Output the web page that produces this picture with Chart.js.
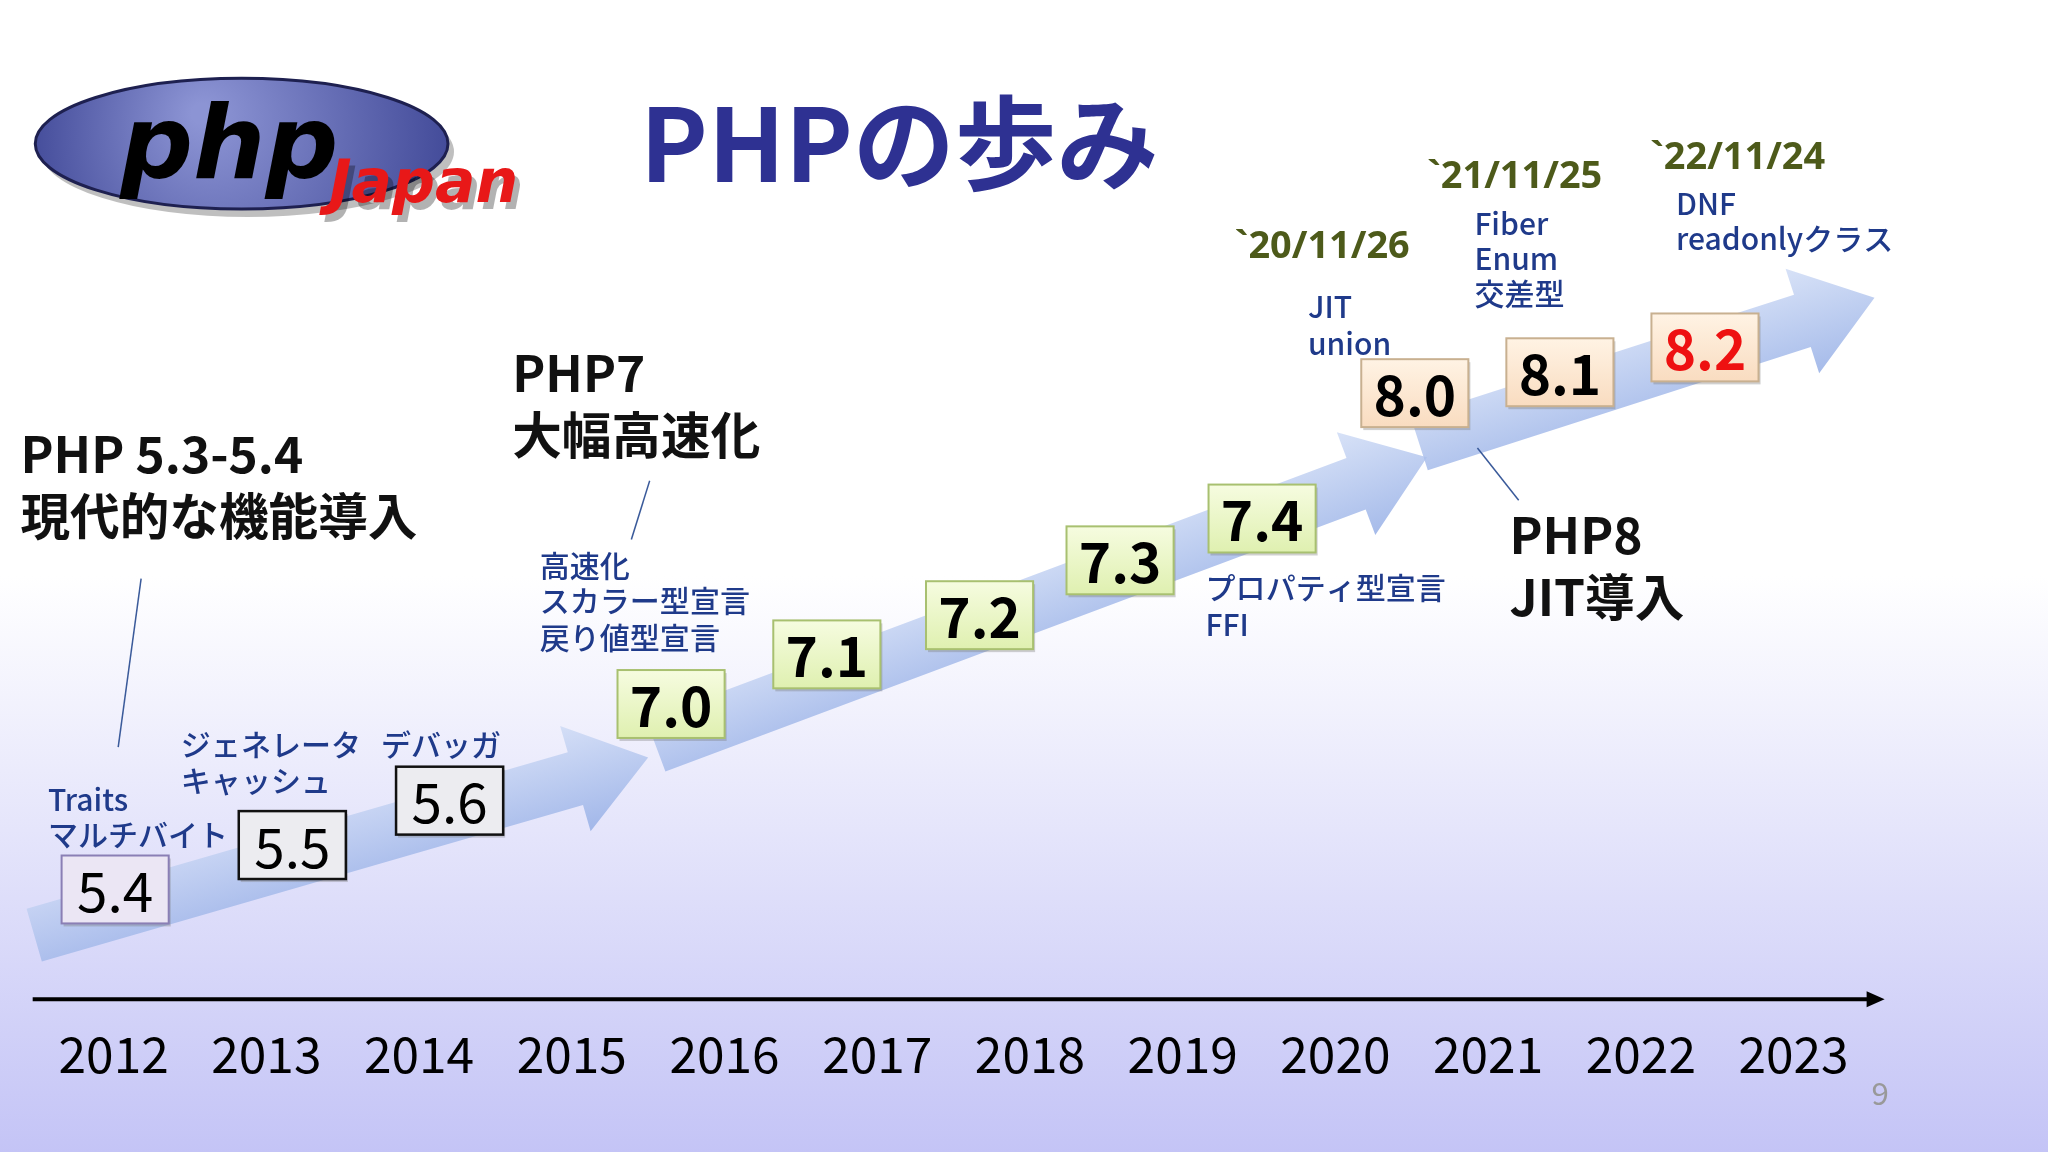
<!DOCTYPE html>
<html><head><meta charset="utf-8">
<script src="https://cdn.jsdelivr.net/npm/chart.js@4"></script>
<style>html,body{margin:0;padding:0;background:#fff}canvas{display:block}</style>
</head><body>
<canvas id="c" width="2048" height="1152"></canvas>
<script>
// データ: x = 年, y = 参照画像での縦位置 (0..882, 下向き)
const years = [2012, 2013, 2014, 2015, 2016, 2017, 2018, 2019, 2020, 2021, 2022, 2023];
const versions = ['5.4', '5.5', '5.6', '7.0', '7.1', '7.2', '7.3', '7.4', '8.0', '8.1', '8.2'];
const versionX = [2012.01, 2013.17, 2014.2, 2015.65, 2016.67, 2017.67, 2018.59, 2019.52, 2020.52, 2021.47, 2022.42];
const versionY = [681, 647, 613, 539, 501, 471, 429, 397, 301, 285, 266];
const versionKind = ['a', 'b', 'b', 'g', 'g', 'g', 'g', 'g', 'o', 'o', 'r'];

const arrows = [
  [[2011.48, 716], [2015.5, 580]],
  [[2015.55, 571], [2020.6, 350]],
  [[2020.55, 340], [2023.53, 228]]
];

// [テキスト, x(年), y, サイズ, 色, 太さ]
const notes = [
  ['PHP 5.3-5.4', 2011.39, 348, 38, '#111', 600],
  ['現代的な機能導入', 2011.39, 395, 38, '#111', 600],
  ['PHP7', 2014.61, 286, 38, '#111', 600],
  ['大幅高速化', 2014.61, 333, 38, '#111', 600],
  ['PHP8', 2021.14, 410, 38, '#111', 600],
  ['JIT導入', 2021.14, 457, 38, '#111', 600],
  ['Traits', 2011.57, 612, 23, '#1f3a8a', 500],
  ['マルチバイト', 2011.57, 639, 23, '#1f3a8a', 500],
  ['ジェネレータ', 2012.44, 570, 23, '#1f3a8a', 500],
  ['キャッシュ', 2012.44, 598, 23, '#1f3a8a', 500],
  ['デバッガ', 2013.75, 570, 23, '#1f3a8a', 500],
  ['高速化', 2014.79, 433, 23, '#1f3a8a', 500],
  ['スカラー型宣言', 2014.79, 460, 23, '#1f3a8a', 500],
  ['戻り値型宣言', 2014.79, 488, 23, '#1f3a8a', 500],
  ['プロパティ型宣言', 2019.15, 450, 23, '#1f3a8a', 500],
  ['FFI', 2019.15, 478, 23, '#1f3a8a', 500],
  ['JIT', 2019.82, 235, 23, '#1f3a8a', 500],
  ['union', 2019.82, 263, 23, '#1f3a8a', 500],
  ['Fiber', 2020.91, 171, 23, '#1f3a8a', 500],
  ['Enum', 2020.91, 198, 23, '#1f3a8a', 500],
  ['交差型', 2020.91, 225, 23, '#1f3a8a', 500],
  ['DNF', 2022.23, 156, 23, '#1f3a8a', 500],
  ['readonlyクラス', 2022.23, 183, 23, '#1f3a8a', 500],
  ['`20/11/26', 2019.34, 189, 29, '#4d5a1a', 700],
  ['`21/11/25', 2020.6, 136, 29, '#4d5a1a', 700],
  ['`22/11/24', 2022.06, 121, 29, '#4d5a1a', 700],
  ['9', 2023.51, 837, 24, '#999', 400]
];

const leaders = [
  [[2012.18, 443], [2012.03, 572]],
  [[2015.51, 368], [2015.39, 413]],
  [[2020.93, 343], [2021.2, 383]]
];

const S = 2048 / 1568;
const FONT = '"Noto Sans CJK JP", "Noto Sans", sans-serif';
const LATIN = '"Noto Sans", sans-serif';

const drawPlugin = {
  id: 'slide',
  beforeDraw(chart) {
    const ctx = chart.ctx, w = chart.width, h = chart.height;
    const g = ctx.createLinearGradient(0, 0, 0, h);
    g.addColorStop(0, '#ffffff');
    g.addColorStop(0.5, '#ffffff');
    g.addColorStop(1, '#c4c4f6');
    ctx.fillStyle = g;
    ctx.fillRect(0, 0, w, h);
  },
  afterDatasetsDraw(chart) {
    const ctx = chart.ctx;
    const xs = chart.scales.x, ys = chart.scales.y;
    const px = v => xs.getPixelForValue(v), py = v => ys.getPixelForValue(v);

    // 矢印
    arrows.forEach(([a, b]) => {
      const x1 = px(a[0]), y1 = py(a[1]), x2 = px(b[0]), y2 = py(b[1]);
      const ang = Math.atan2(y2 - y1, x2 - x1), len = Math.hypot(x2 - x1, y2 - y1);
      const hw = 21 * S, hh = 42 * S, hl = 58 * S;
      ctx.save();
      ctx.translate(x1, y1); ctx.rotate(ang);
      const gr = ctx.createLinearGradient(0, -hh, 0, hh);
      gr.addColorStop(0, 'rgba(205,218,245,0.8)');
      gr.addColorStop(1, 'rgba(150,175,230,0.85)');
      ctx.fillStyle = gr;
      ctx.beginPath();
      ctx.moveTo(0, -hw); ctx.lineTo(len - hl, -hw); ctx.lineTo(len - hl, -hh);
      ctx.lineTo(len, 0); ctx.lineTo(len - hl, hh); ctx.lineTo(len - hl, hw);
      ctx.lineTo(0, hw); ctx.closePath(); ctx.fill();
      ctx.restore();
    });

    // 引き出し線
    ctx.strokeStyle = '#3a5a9a'; ctx.lineWidth = 1.5;
    leaders.forEach(([a, b]) => {
      ctx.beginPath(); ctx.moveTo(px(a[0]), py(a[1])); ctx.lineTo(px(b[0]), py(b[1])); ctx.stroke();
    });

    // バージョンの箱
    const bw = 82 * S, bh = 52 * S;
    versions.forEach((v, i) => {
      const cx = px(versionX[i]), cy = py(versionY[i]), k = versionKind[i];
      const x0 = cx - bw / 2, y0 = cy - bh / 2;
      let fill, border, color = '#000', weight = 700;
      if (k === 'a') { fill = '#ebe6f4'; border = '#8a7fb5'; weight = 400; }
      else if (k === 'b') { fill = '#ececf0'; border = '#111'; weight = 400; }
      else if (k === 'g') {
        fill = ctx.createLinearGradient(0, y0, 0, y0 + bh);
        fill.addColorStop(0, '#f6fce0'); fill.addColorStop(1, '#dff0b0'); border = '#a8c070';
      } else {
        fill = ctx.createLinearGradient(0, y0, 0, y0 + bh);
        fill.addColorStop(0, '#fff3e4'); fill.addColorStop(1, '#f9dcc0'); border = '#c8b090';
        if (k === 'r') color = '#ee1111';
      }
      ctx.fillStyle = 'rgba(120,120,120,0.35)';
      ctx.fillRect(x0 + 2, y0 + 3, bw, bh);
      ctx.fillStyle = fill; ctx.fillRect(x0, y0, bw, bh);
      ctx.strokeStyle = border; ctx.lineWidth = k === 'b' ? 2.5 : 2;
      ctx.strokeRect(x0, y0, bw, bh);
      ctx.fillStyle = color;
      ctx.font = `${weight} ${42 * S}px ${FONT}`;
      ctx.textAlign = 'center'; ctx.textBaseline = 'middle';
      ctx.fillText(v, cx, cy + 2);
    });

    // 注記
    ctx.textAlign = 'left'; ctx.textBaseline = 'middle';
    notes.forEach(([t, x, y, s, c, wgt]) => {
      ctx.fillStyle = c;
      ctx.font = `${wgt} ${s * S}px ${t.startsWith('`') ? LATIN : FONT}`;
      ctx.fillText(t, px(x), py(y));
    });

    // 時間軸
    const ay = py(765), ax0 = px(2011.47), ax1 = px(2023.57);
    ctx.strokeStyle = '#000'; ctx.lineWidth = 4;
    ctx.beginPath(); ctx.moveTo(ax0, ay); ctx.lineTo(ax1 - 10, ay); ctx.stroke();
    ctx.fillStyle = '#000';
    ctx.beginPath(); ctx.moveTo(ax1 + 4, ay); ctx.lineTo(ax1 - 14, ay - 8); ctx.lineTo(ax1 - 14, ay + 8); ctx.fill();
    ctx.textAlign = 'center';
    ctx.font = `400 ${38 * S}px ${FONT}`;
    years.forEach(yr => ctx.fillText(String(yr), px(yr), py(807)));

    // ロゴ
    const lx = 185 * S, ly = 110 * S;
    ctx.save();
    ctx.fillStyle = 'rgba(0,0,0,0.25)';
    ctx.beginPath(); ctx.ellipse(lx + 6, ly + 8, 158 * S, 50 * S, 0, 0, Math.PI * 2); ctx.fill();
    const eg = ctx.createRadialGradient(lx - 40, ly - 30, 10, lx, ly, 170 * S);
    eg.addColorStop(0, '#8c94d4'); eg.addColorStop(1, '#3f4796');
    ctx.fillStyle = eg;
    ctx.beginPath(); ctx.ellipse(lx, ly, 158 * S, 50 * S, 0, 0, Math.PI * 2); ctx.fill();
    ctx.strokeStyle = '#1e2050'; ctx.lineWidth = 3; ctx.stroke();
    ctx.textAlign = 'left'; ctx.textBaseline = 'alphabetic';
    ctx.font = `italic 900 ${78 * S}px "DejaVu Sans", sans-serif`;
    ctx.fillStyle = '#000'; ctx.fillText('php', 92 * S, 136 * S);
    ctx.font = `italic 900 ${46 * S}px "DejaVu Sans", sans-serif`;
    ctx.fillStyle = 'rgba(0,0,0,0.3)'; ctx.fillText('Japan', 256 * S, 160 * S);
    ctx.fillStyle = '#e81818'; ctx.fillText('Japan', 252 * S, 155 * S);
    ctx.restore();

    // タイトル
    ctx.fillStyle = '#2e3192';
    ctx.font = `600 ${78 * S}px ${FONT}`;
    ctx.textAlign = 'left'; ctx.textBaseline = 'middle';
    ctx.fillText('PHPの歩み', 490 * S, 110 * S);
  }
};

new Chart(document.getElementById('c').getContext('2d'), {
  type: 'scatter',
  data: { datasets: [{ data: versionX.map((x, i) => ({ x, y: versionY[i] })), pointRadius: 0 }] },
  options: {
    responsive: false, animation: false,
    layout: { padding: 0 },
    plugins: { legend: { display: false }, tooltip: { enabled: false } },
    scales: {
      x: { type: 'linear', min: 2011.256, max: 2024.666, display: false },
      y: { type: 'linear', min: 0, max: 882, reverse: true, display: false }
    }
  },
  plugins: [drawPlugin]
});
</script>
</body></html>
